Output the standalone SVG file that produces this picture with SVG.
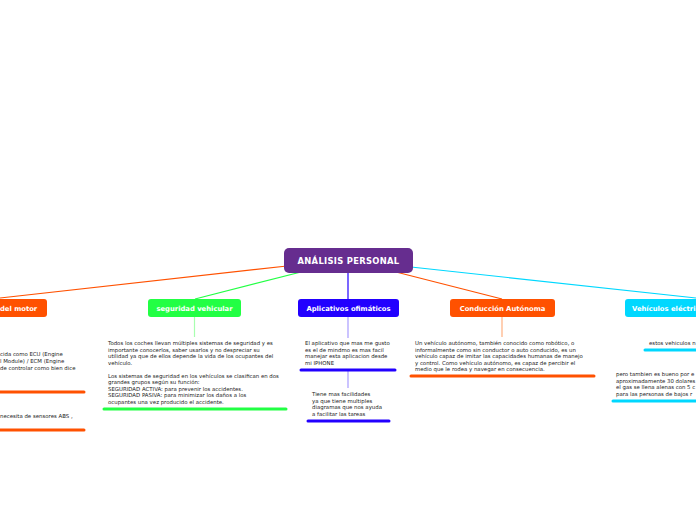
<svg xmlns="http://www.w3.org/2000/svg" width="696" height="520" viewBox="0 0 696 520">
<style>
.t{font-family:"DejaVu Sans","Verdana",sans-serif;font-size:5.4px;fill:#222}
.n{font-family:"DejaVu Sans","Verdana",sans-serif;font-size:6.8px;font-weight:bold;fill:#fff}
.c{fill:none;stroke-width:1.2}
.u{stroke-width:3;stroke-linecap:round}
</style>
<rect width="696" height="520" fill="#fff"/>
<g id="connectors">
<path class="c" d="M287 266 L0 298" stroke="#ff5100"/>
<path class="c" d="M301 272 L195 299" stroke="#22ff44"/>
<path class="c" d="M348 273 L348 299" stroke="#2200ff"/>
<path class="c" d="M396 272 L502 299" stroke="#ff5100"/>
<path class="c" d="M411 267 L696 298" stroke="#00d8ff"/>
<path class="c" d="M194.5 317 V337" stroke="#a8ffb0"/>
<path class="c" d="M348 317 V338" stroke="#a89cff"/>
<path class="c" d="M348 371 V388" stroke="#a89cff"/>
<path class="c" d="M502 317 V337" stroke="#ffb080"/>
</g>
<g id="central">
<rect x="284" y="248" width="129" height="25" rx="5" fill="#662d8f"/>
<text x="348.5" y="264" text-anchor="middle" class="n" style="font-size:8.4px;letter-spacing:0.3px">ANÁLISIS PERSONAL</text>
</g>
<g id="motor">
<rect x="-60" y="299" width="107" height="18" rx="3" fill="#ff5100"/>
<text x="0" y="311" class="n">del motor</text>
<text class="t"><tspan x="0" y="356">cida como ECU (Engine</tspan><tspan x="0" y="363">l Module) / ECM (Engine</tspan><tspan x="0" y="370">de controlar como bien dice</tspan></text>
<line class="u" x1="-2" y1="392" x2="84" y2="392" stroke="#ff5100"/>
<text x="0" y="418" class="t">necesita de sensores ABS ,</text>
<line class="u" x1="-2" y1="430" x2="84" y2="430" stroke="#ff5100"/>
</g>
<g id="seguridad">
<rect x="148" y="299" width="93" height="18" rx="3" fill="#22ff44"/>
<text x="194.5" y="311" text-anchor="middle" class="n">seguridad vehicular</text>
<text class="t"><tspan x="108" y="345">Todos los coches llevan múltiples sistemas de seguridad y es</tspan><tspan x="108" y="351.5">importante conocerlos, saber usarlos y no despreciar su</tspan><tspan x="108" y="358">utilidad ya que de ellos depende la vida de los ocupantes del</tspan><tspan x="108" y="364.5">vehículo.</tspan><tspan x="108" y="377.5">Los sistemas de seguridad en los vehículos se clasifican en dos</tspan><tspan x="108" y="384">grandes grupos según su función:</tspan><tspan x="108" y="390.5">SEGURIDAD ACTIVA: para prevenir los accidentes.</tspan><tspan x="108" y="397">SEGURIDAD PASIVA: para minimizar los daños a los</tspan><tspan x="108" y="403.5">ocupantes una vez producido el accidente.</tspan></text>
<line class="u" x1="104" y1="409" x2="286" y2="409" stroke="#22ff44"/>
</g>
<g id="aplicativos">
<rect x="298" y="299" width="101" height="18" rx="3" fill="#2200ff"/>
<text x="348.5" y="311" text-anchor="middle" class="n">Aplicativos ofimáticos</text>
<text class="t"><tspan x="305" y="345">El aplicativo que mas me gusto</tspan><tspan x="305" y="351.5">es el de mindmo es mas facil</tspan><tspan x="305" y="358">manejar esta aplicacion desde</tspan><tspan x="305" y="364.5">mi IPHONE</tspan></text>
<line class="u" x1="301" y1="370" x2="395" y2="370" stroke="#2200ff"/>
<text class="t"><tspan x="312" y="396">Tiene mas facilidades</tspan><tspan x="312" y="402.5">ya que tiene multiples</tspan><tspan x="312" y="409">diagramas que nos ayuda</tspan><tspan x="312" y="415.5">a facilitar las tareas</tspan></text>
<line class="u" x1="308" y1="421" x2="389" y2="421" stroke="#2200ff"/>
</g>
<g id="conduccion">
<rect x="450" y="299" width="105" height="18" rx="3" fill="#ff5100"/>
<text x="502.5" y="311" text-anchor="middle" class="n">Conducción Autónoma</text>
<text class="t"><tspan x="415" y="345">Un vehículo autónomo, también conocido como robótico, o</tspan><tspan x="415" y="351.5">informalmente como sin conductor o auto conducido, es un</tspan><tspan x="415" y="358">vehículo capaz de imitar las capacidades humanas de manejo</tspan><tspan x="415" y="364.5">y control. Como vehículo autónomo, es capaz de percibir el</tspan><tspan x="415" y="371">medio que le rodea y navegar en consecuencia.</tspan></text>
<line class="u" x1="411" y1="376" x2="594" y2="376" stroke="#ff5100"/>
</g>
<g id="electricos">
<rect x="625" y="299" width="120" height="18" rx="3" fill="#00d8ff"/>
<text x="632" y="311" class="n">Vehículos eléctri</text>
<text x="649" y="345" class="t">estos vehiculos n</text>
<line class="u" x1="645" y1="350" x2="698" y2="350" stroke="#00d8ff"/>
<text class="t"><tspan x="616" y="376">pero tambien es bueno por e</tspan><tspan x="616" y="382.5">aproximadamente 30 dolares</tspan><tspan x="616" y="389">el gas se llena alenas con 5 c</tspan><tspan x="616" y="395.5">para las personas de bajos r</tspan></text>
<line class="u" x1="613" y1="401" x2="698" y2="401" stroke="#00d8ff"/>
</g>
</svg>
